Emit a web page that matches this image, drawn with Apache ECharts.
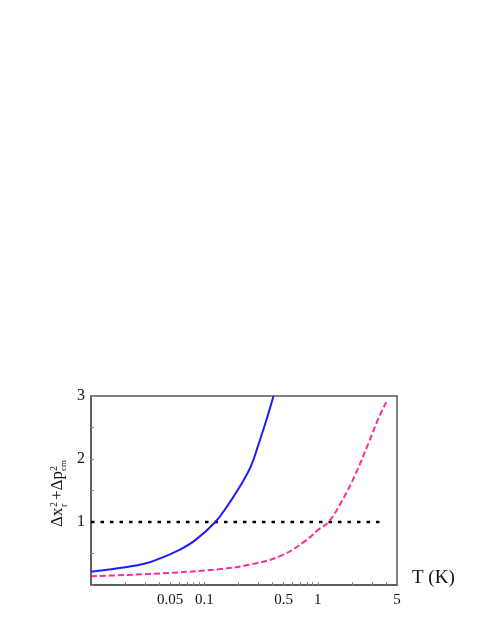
<!DOCTYPE html>
<html>
<head>
<meta charset="utf-8">
<script src="https://cdn.jsdelivr.net/npm/echarts@6/dist/echarts.min.js"></script>
<style>
  html, body { margin: 0; padding: 0; background: #fff; }
  #main { width: 491px; height: 635px; }
</style>
</head>
<body>
<div id="main"></div>
<script>
// 蓝色实线
const blueT = [0.01, 0.02, 0.03, 0.039, 0.059, 0.0815, 0.125, 0.163, 0.207, 0.258, 0.30, 0.357, 0.407];
const blueV = [0.21, 0.28, 0.34, 0.41, 0.55, 0.70, 1.0, 1.28, 1.57, 1.89, 2.23, 2.65, 3.0];
// 粉色虚线
const pinkT = [0.01, 0.0366, 0.133, 0.263, 0.483, 0.776, 1.017, 1.245, 1.63, 2.14, 2.8, 3.44, 4.02];
const pinkV = [0.14, 0.18, 0.25, 0.33, 0.47, 0.70, 0.88, 1.0, 1.33, 1.75, 2.25, 2.65, 2.9];
// 水平参考线
const refT = [0.01, 3.8];
const refV = [1, 1];
// 刻度
const xLabels = [0.05, 0.1, 0.5, 1, 5];
const xMinor = [0.02, 0.03, 0.04, 0.06, 0.07, 0.08, 0.09, 0.2, 0.3, 0.4, 0.6, 0.7, 0.8, 0.9, 2, 3, 4];

const pair = (xs, ys) => xs.map((x, i) => [x, ys[i]]);
const serif = '"Liberation Serif", "DejaVu Serif", serif';
const frame = '#555';

const chart = echarts.init(document.getElementById('main'));
const option = {
  animation: false,
  grid: {
    left: 91, top: 396, right: 94, bottom: 50,
    show: true, borderColor: frame, borderWidth: 1.5
  },
  xAxis: {
    type: 'log',
    min: 0.01,
    max: 5,
    name: 'T (K)',
    nameLocation: 'end',
    nameGap: 15,
    nameTextStyle: { fontFamily: serif, fontSize: 19, color: '#111', verticalAlign: 'bottom', lineHeight: 14 },
    axisLine: { show: true, lineStyle: { color: frame, width: 1.5 } },
    axisTick: {
      show: true, inside: true, length: 3,
      lineStyle: { color: '#888', width: 1 },
      customValues: xMinor.concat(xLabels)
    },
    axisLabel: {
      fontFamily: serif, fontSize: 15, color: '#111', margin: 8,
      customValues: xLabels,
      formatter: v => String(v)
    },
    splitLine: { show: false },
    minorTick: { show: false }
  },
  yAxis: {
    type: 'value',
    min: 0,
    max: 3,
    interval: 0.5,
    axisLine: { show: true, lineStyle: { color: frame, width: 1.5 } },
    axisTick: { show: true, inside: true, length: 3, lineStyle: { color: '#888', width: 1 } },
    axisLabel: {
      fontFamily: serif, fontSize: 16, color: '#111', margin: 6,
      formatter: v => (v > 0 && v % 1 === 0) ? String(v) : ''
    },
    splitLine: { show: false }
  },
  graphic: [{
    type: 'group',
    x: 63, y: 527,
    rotation: Math.PI / 2,
    children: [
      { type: 'text', x: 0, y: -5, style: { text: 'Δx', font: '17px ' + serif, fill: '#111', verticalAlign: 'middle' } },
      { type: 'text', x: 20, y: -9, style: { text: '2', font: '10px ' + serif, fill: '#111', verticalAlign: 'middle' } },
      { type: 'text', x: 20, y: 1, style: { text: 'r', font: '10px ' + serif, fill: '#111', verticalAlign: 'middle' } },
      { type: 'text', x: 27, y: -5, style: { text: '+Δp', font: '17px ' + serif, fill: '#111', verticalAlign: 'middle' } },
      { type: 'text', x: 56, y: -9, style: { text: '2', font: '10px ' + serif, fill: '#111', verticalAlign: 'middle' } },
      { type: 'text', x: 56, y: 1, style: { text: 'cm', font: '9px ' + serif, fill: '#111', verticalAlign: 'middle' } }
    ]
  }],
  series: [
    {
      type: 'line', data: pair(refT, refV), showSymbol: false,
      lineStyle: { color: '#000', width: 2.5, type: [3.5, 6] }
    },
    {
      type: 'line', data: pair(blueT, blueV), showSymbol: false, smooth: 0.4,
      lineStyle: { color: '#1c1cff', width: 2 }
    },
    {
      type: 'line', data: pair(pinkT, pinkV), showSymbol: false, smooth: 0.4,
      lineStyle: { color: '#ff2a9c', width: 2, type: [6, 3] }
    }
  ]
};
chart.setOption(option);
</script>
</body>
</html>
